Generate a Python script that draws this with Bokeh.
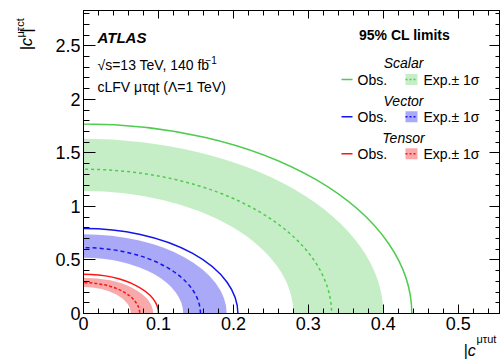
import math
from bokeh.plotting import figure
from bokeh.models import Range1d, LinearAxis, FixedTicker, CustomJSTickFormatter, Label
from bokeh.embed import file_html
from bokeh.resources import INLINE

# ---------------- data ----------------
models = ["Scalar", "Vector", "Tensor"]
obs_ut = [0.438, 0.206, 0.100]      # observed limit on |c^{mu tau ut}| (c_ct = 0)
obs_ct = [1.771, 0.793, 0.366]      # observed limit on |c^{mu tau ct}| (c_ut = 0)
exp_ut = [0.331, 0.156, 0.075]
exp_ct = [1.348, 0.615, 0.288]
exp_lo_ut = [0.280, 0.133, 0.063]   # expected -1 sigma
exp_lo_ct = [1.145, 0.521, 0.248]
exp_hi_ut = [0.400, 0.191, 0.093]   # expected +1 sigma
exp_hi_ct = [1.631, 0.740, 0.335]

x_ticks = [0, 0.1, 0.2, 0.3, 0.4, 0.5]
y_ticks = [0, 0.5, 1, 1.5, 2, 2.5]

line_colors = ["#4fcc4f", "#1414ee", "#ff1414"]
band_colors = ["#c6eec6", "#a9a9f7", "#f9a9a9"]
dash_styles = ["3 3", "4 3", "3 2"]

XMAX, YMAX = 0.555, 2.83
L, R, T, B = 83, 499, 10, 312.5
W, H = 502, 359

def X(px):
    return (px - L) / (R - L) * XMAX

def Y(py):
    return (B - py) / (B - T) * YMAX

p = figure(width=W, height=H, x_range=Range1d(0, XMAX), y_range=Range1d(0, YMAX),
           output_backend="svg", toolbar_location=None,
           min_border_left=L, min_border_right=W - R, min_border_top=T,
           min_border_bottom=int(H - B))
p.grid.visible = False
p.outline_line_color = "black"
p.outline_line_width = 1
p.background_fill_color = "white"
p.border_fill_color = "white"

FONT = "Liberation Sans"

# bands: outer ellipse filled, inner ellipse blanked
for i in range(3):
    p.ellipse(x=[0], y=[0], width=[2 * exp_hi_ut[i]], height=[2 * exp_hi_ct[i]],
              fill_color=band_colors[i], line_color=None)
    p.ellipse(x=[0], y=[0], width=[2 * exp_lo_ut[i]], height=[2 * exp_lo_ct[i]],
              fill_color="white", line_color=None)

for i in range(3):
    p.ellipse(x=[0], y=[0], width=[2 * exp_ut[i]], height=[2 * exp_ct[i]],
              fill_color=None, line_color=line_colors[i], line_width=1.5,
              line_dash=dash_styles[i])
    p.ellipse(x=[0], y=[0], width=[2 * obs_ut[i]], height=[2 * obs_ct[i]],
              fill_color=None, line_color=line_colors[i], line_width=1.5)

# ---------------- axes ----------------
fmt = CustomJSTickFormatter(code="return String(Number(tick.toFixed(3)));")
x_minor = [round(0.02 * k, 3) for k in range(0, 28)]
y_minor = [round(0.1 * k, 3) for k in range(0, 29)]

def style_axis(ax, ticks, minor, major_len, minor_len, labels=True):
    ax.ticker = FixedTicker(ticks=ticks, minor_ticks=minor)
    ax.major_tick_in = major_len
    ax.major_tick_out = 0
    ax.minor_tick_in = minor_len
    ax.minor_tick_out = 0
    ax.axis_line_color = "black"
    ax.major_tick_line_color = "black"
    ax.minor_tick_line_color = "black"
    if labels:
        ax.formatter = fmt
        ax.major_label_text_font = FONT
        ax.major_label_text_font_size = "18px"
        ax.major_label_text_color = "black"
    else:
        ax.major_label_text_font_size = "0px"
        ax.major_label_standoff = 0
        ax.major_label_text_alpha = 0

xb = p.xaxis[0]
yl = p.yaxis[0]
style_axis(xb, x_ticks, x_minor, 9, 5)
xb.major_label_standoff = 3
style_axis(yl, y_ticks, y_minor, 12, 6)
yl.major_label_standoff = 3

xt = LinearAxis()
style_axis(xt, x_ticks, x_minor, 8, 5, labels=False)
p.add_layout(xt, "above")
yr = LinearAxis()
style_axis(yr, y_ticks, y_minor, 10, 4, labels=False)
p.add_layout(yr, "right")

# ---------------- labels ----------------
def lab(text, px, py, size, style="normal", angle=0, align="left",
        baseline="alphabetic", place=None):
    lbl = Label(x=X(px), y=Y(py), text=text, text_font=FONT,
                text_font_size=size, text_font_style=style, angle=angle,
                text_align=align, text_baseline=baseline, text_color="black")
    if place is None:
        p.add_layout(lbl)
    else:
        p.add_layout(lbl, place)

# axis titles (placed in side panels so they are not clipped by the frame)
a = math.pi / 2
lab("|c    |", 26, 50, "17px", style="italic", angle=a, place="left")
lab("μτct", 19, 37, "11px", angle=a, place="left")
lab("μτut", 476, 338, "11px", place="left")
lab("|c", 463, 349, "16px", style="italic", place="below")

# ---------------- text block ----------------
lab("ATLAS", 97, 37, "15px", style="bold italic", baseline="middle")
lab("√s=13 TeV, 140 fb", 97, 64, "14px", baseline="middle")
lab("−1", 205, 59, "10px", baseline="middle")
lab("cLFV μτqt (Λ=1 TeV)", 97, 86, "14px", baseline="middle")

# ---------------- legend ----------------
lab("95% CL limits", 404, 34, "14px", style="bold", align="center", baseline="middle")
rows_title_y = [62, 100, 137]
rows_y = [79, 116, 153]
for i in range(3):
    ty, ry = rows_title_y[i], rows_y[i]
    lab(models[i], 403, ty, "14px", style="italic", align="center", baseline="middle")
    p.segment(x0=[X(341)], y0=[Y(ry)], x1=[X(352)], y1=[Y(ry)],
              line_color=line_colors[i], line_width=1.5)
    lab("Obs.", 357, ry, "14px", baseline="middle")
    p.quad(left=[X(405)], right=[X(417)], top=[Y(ry - 5.5)], bottom=[Y(ry + 5.5)],
           fill_color=band_colors[i], line_color=None)
    p.segment(x0=[X(405)], y0=[Y(ry)], x1=[X(417)], y1=[Y(ry)],
              line_color=line_colors[i], line_width=1.5, line_dash="2 2")
    lab("Exp.± 1σ", 423, ry, "14px", baseline="middle")

open("out.html", "w").write(file_html(p, INLINE))
